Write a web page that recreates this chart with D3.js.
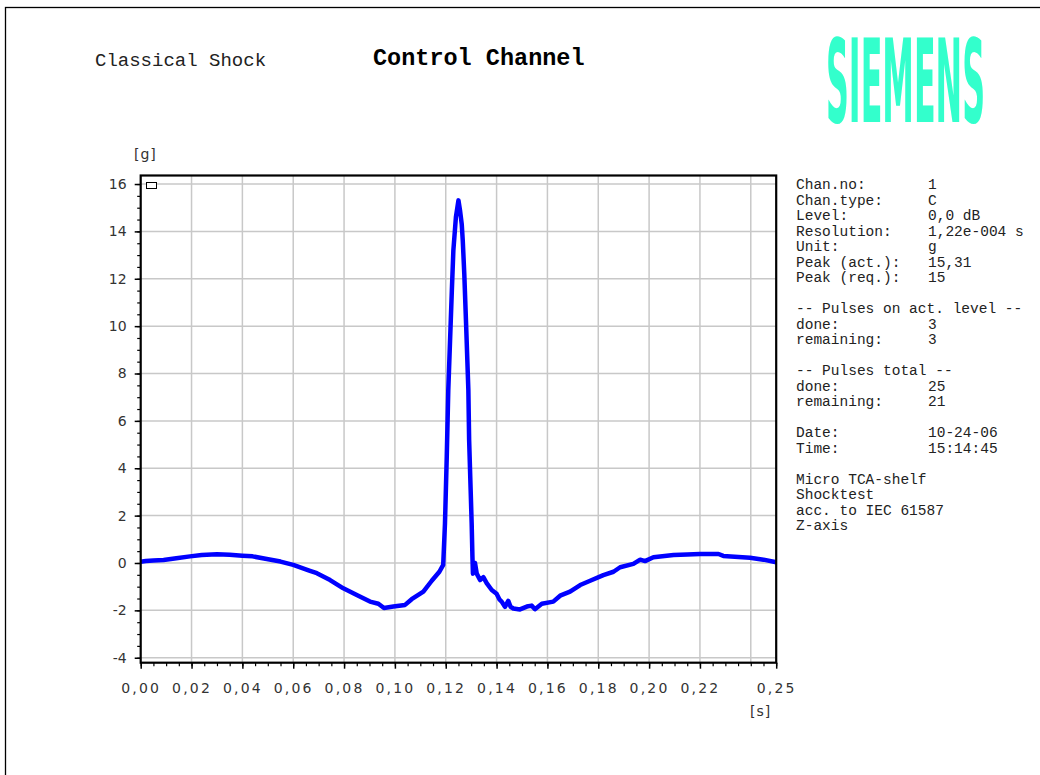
<!DOCTYPE html>
<html>
<head>
<meta charset="utf-8">
<script src="https://cdn.jsdelivr.net/npm/d3@7"></script>
<style>
  body { margin: 0; background: #fff; }
  svg { display: block; }
</style>
</head>
<body>
<div id="chart"></div>
<script>
// time in seconds, acceleration in g
let timeS = [
  0.000, 0.002, 0.005, 0.009, 0.014, 0.0194, 0.024, 0.030, 0.035, 0.040,
  0.044, 0.0496, 0.055, 0.060, 0.0666, 0.0693, 0.0745, 0.0797, 0.085, 0.0876,
  0.0902, 0.0935, 0.0957, 0.0994, 0.104, 0.1066, 0.1112, 0.1145, 0.1175, 0.119,
  0.1197, 0.1204, 0.121, 0.1217, 0.1224, 0.123, 0.124, 0.125, 0.1256, 0.1263,
  0.1267, 0.1273, 0.128, 0.1289, 0.1292, 0.1298, 0.1302, 0.1305, 0.1307, 0.1315,
  0.1322, 0.1335, 0.1348, 0.1361, 0.1381, 0.140, 0.1412, 0.142, 0.1433, 0.1446,
  0.1455, 0.1466, 0.1492, 0.1519, 0.1538, 0.1551, 0.1578, 0.1623, 0.165, 0.1689,
  0.1729, 0.1768, 0.182, 0.186, 0.1886, 0.1938, 0.1965, 0.1984, 0.2017, 0.2096,
  0.215, 0.220, 0.2273, 0.2292, 0.2397, 0.245, 0.250
];
let accelG = [
  0.05, 0.08, 0.10, 0.13, 0.20, 0.28, 0.34, 0.37, 0.35, 0.31,
  0.28, 0.17, 0.06, -0.08, -0.33, -0.43, -0.72, -1.07, -1.35, -1.49,
  -1.63, -1.72, -1.90, -1.84, -1.77, -1.53, -1.21, -0.75, -0.37, -0.08,
  1.67, 4.49, 7.3, 9.4, 11.5, 13.2, 14.6, 15.31, 14.9, 14.3,
  13.6, 12.2, 10.1, 7.3, 5.2, 3.08, 1.67, 0.27, -0.45, 0.0,
  -0.45, -0.72, -0.6, -0.85, -1.14, -1.3, -1.55, -1.63, -1.85, -1.6,
  -1.85, -1.92, -1.96, -1.84, -1.8, -1.95, -1.72, -1.63, -1.38, -1.21,
  -0.93, -0.75, -0.51, -0.37, -0.18, -0.04, 0.14, 0.08, 0.24, 0.34,
  0.36, 0.38, 0.38, 0.3, 0.22, 0.14, 0.03
];
let xTickValues = [0, 0.02, 0.04, 0.06, 0.08, 0.10, 0.12, 0.14, 0.16, 0.18, 0.20, 0.22, 0.25];
let xGridValues = [0.02, 0.04, 0.06, 0.08, 0.10, 0.12, 0.14, 0.16, 0.18, 0.20, 0.22, 0.24];
let yTickValues = [-4, -2, 0, 2, 4, 6, 8, 10, 12, 14, 16];

let infoLines = [
  ["Chan.no:", "1"],
  ["Chan.type:", "C"],
  ["Level:", "0,0 dB"],
  ["Resolution:", "1,22e-004 s"],
  ["Unit:", "g"],
  ["Peak (act.):", "15,31"],
  ["Peak (req.):", "15"],
  ["", ""],
  ["-- Pulses on act. level --", ""],
  ["done:", "3"],
  ["remaining:", "3"],
  ["", ""],
  ["-- Pulses total --", ""],
  ["done:", "25"],
  ["remaining:", "21"],
  ["", ""],
  ["Date:", "10-24-06"],
  ["Time:", "15:14:45"],
  ["", ""],
  ["Micro TCA-shelf", ""],
  ["Shocktest", ""],
  ["acc. to IEC 61587", ""],
  ["Z-axis", ""]
];

let buildChart = function() {
  let W = 1040, H = 775;
  let plot = {left: 140.7, right: 776.2, top: 175.5, bottom: 662.7};
  let mono = "'Courier New', 'Liberation Mono', monospace";
  let sans = "'DejaVu Sans', Verdana, sans-serif";

  let locale = d3.formatLocale({decimal: ",", thousands: ".", grouping: [3], currency: ["", ""], minus: "-"});

  let svg = d3.select("#chart").append("svg")
    .attr("width", W)
    .attr("height", H);

  // page frame
  svg.append("rect")
    .attr("x", 5.5).attr("y", 7.5)
    .attr("width", W + 20).attr("height", H + 20)
    .attr("fill", "none").attr("stroke", "#000").attr("stroke-width", 1.3);

  // header
  svg.append("text")
    .attr("x", 95).attr("y", 66)
    .style("font-family", mono).style("font-size", "19px").attr("fill", "#222")
    .text("Classical Shock");
  svg.append("text")
    .attr("x", 373).attr("y", 65)
    .style("font-family", mono).style("font-size", "23.5px").style("font-weight", "bold").attr("fill", "#000")
    .text("Control Channel");
  // logo: condensed bold text stretched vertically
  svg.append("text")
    .attr("transform", "translate(826,122) scale(1,3.05)")
    .attr("x", 0).attr("y", 0)
    .attr("textLength", 159).attr("lengthAdjust", "spacingAndGlyphs")
    .style("font-family", "'DejaVu Sans Condensed', 'DejaVu Sans', sans-serif")
    .style("font-size", "38px").style("font-weight", "bold")
    .attr("fill", "#33ffcc")
    .text("SIEMENS");

  let x = d3.scaleLinear().domain([0, 0.25]).range([plot.left, plot.right]);
  let y = d3.scaleLinear().domain([-4.21, 16.36]).range([plot.bottom, plot.top]);

  // grid
  let grid = svg.append("g").attr("stroke", "#c8c8c8").attr("stroke-width", 1.5);
  grid.selectAll("line.gx").data(xGridValues).enter().append("line")
    .attr("x1", d => x(d)).attr("x2", d => x(d))
    .attr("y1", plot.top).attr("y2", plot.bottom);
  grid.selectAll("line.gy").data(yTickValues).enter().append("line")
    .attr("x1", plot.left).attr("x2", plot.right)
    .attr("y1", d => y(d)).attr("y2", d => y(d));

  // minor ticks
  let xMinor = d3.range(0, 0.2501, 0.005);
  let yMinor = d3.range(-4, 16.01, 0.5);
  svg.append("g")
    .attr("transform", `translate(0,${plot.bottom})`)
    .call(d3.axisBottom(x).tickValues(xMinor).tickSize(3.5).tickFormat(""))
    .call(g => g.select(".domain").remove())
    .selectAll("line").attr("stroke", "#000").attr("stroke-width", 1.2);
  svg.append("g")
    .attr("transform", `translate(${plot.left},0)`)
    .call(d3.axisLeft(y).tickValues(yMinor).tickSize(3.5).tickFormat(""))
    .call(g => g.select(".domain").remove())
    .selectAll("line").attr("stroke", "#000").attr("stroke-width", 1.2);

  // major axes
  let xAxis = svg.append("g")
    .attr("transform", `translate(0,${plot.bottom})`)
    .call(d3.axisBottom(x).tickValues(xTickValues).tickSize(6).tickPadding(14)
      .tickFormat(locale.format(".2f")));
  xAxis.select(".domain").remove();
  xAxis.selectAll("line").attr("stroke", "#000").attr("stroke-width", 1.5);
  xAxis.selectAll("text")
    .style("font-family", sans).style("font-size", "14px")
    .style("letter-spacing", "2.2px").attr("fill", "#333");

  let yAxis = svg.append("g")
    .attr("transform", `translate(${plot.left},0)`)
    .call(d3.axisLeft(y).tickValues(yTickValues).tickSize(6).tickPadding(8)
      .tickFormat(locale.format("d")));
  yAxis.select(".domain").remove();
  yAxis.selectAll("line").attr("stroke", "#000").attr("stroke-width", 1.5);
  yAxis.selectAll("text")
    .style("font-family", sans).style("font-size", "14px").attr("fill", "#333");

  // unit labels
  svg.append("text").attr("x", 134).attr("y", 159)
    .style("font-family", sans).style("font-size", "14px").style("letter-spacing", "1px")
    .attr("fill", "#333").text("[g]");
  svg.append("text").attr("x", 750).attr("y", 716)
    .style("font-family", sans).style("font-size", "14px").style("letter-spacing", "1px")
    .attr("fill", "#333").text("[s]");

  // signal
  let points = timeS.map((t, i) => [t, accelG[i]]);
  let line = d3.line().x(d => x(d[0])).y(d => y(d[1]));
  let clipId = "plotclip";
  svg.append("clipPath").attr("id", clipId).append("rect")
    .attr("x", plot.left).attr("y", plot.top)
    .attr("width", plot.right - plot.left).attr("height", plot.bottom - plot.top);
  svg.append("path")
    .datum(points)
    .attr("clip-path", `url(#${clipId})`)
    .attr("d", line)
    .attr("fill", "none")
    .attr("stroke", "#0000ff")
    .attr("stroke-width", 4.5)
    .attr("stroke-linejoin", "round")
    .attr("stroke-linecap", "round");

  // plot frame
  svg.append("rect")
    .attr("x", plot.left).attr("y", plot.top)
    .attr("width", plot.right - plot.left).attr("height", plot.bottom - plot.top)
    .attr("fill", "none").attr("stroke", "#000").attr("stroke-width", 2.2);

  // small legend box
  svg.append("rect")
    .attr("x", 146.5).attr("y", 182.5).attr("width", 10).attr("height", 6)
    .attr("fill", "#fff").attr("stroke", "#000").attr("stroke-width", 1);

  // info panel
  let info = svg.append("g")
    .style("font-family", mono).style("font-size", "14.5px").attr("fill", "#222");
  infoLines.forEach(function(row, i) {
    let yy = 189 + i * 15.5;
    if (row[0]) info.append("text").attr("x", 796).attr("y", yy).attr("xml:space", "preserve").text(row[0]);
    if (row[1]) info.append("text").attr("x", 928).attr("y", yy).text(row[1]);
  });
};

buildChart();
</script>
</body>
</html>
